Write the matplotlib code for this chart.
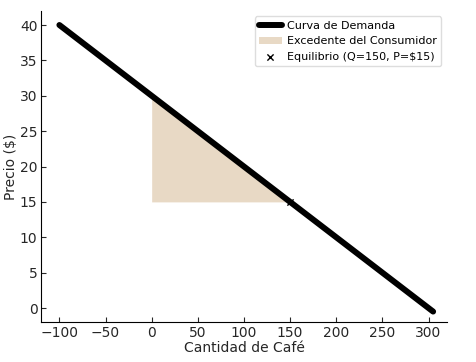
import matplotlib
matplotlib.use("Agg")
import matplotlib.pyplot as plt
import numpy as np

# Data
demand_q = [-100, 305]
demand_p = [40, -0.5]
surplus_q = [0, 150]
surplus_top = [30, 15]
surplus_base = 15
eq_q = [150]
eq_p = [15]

fig = plt.figure(figsize=(4.76, 3.62), dpi=100)
ax = fig.add_axes([0.086, 0.110, 0.853, 0.860])

ax.plot(demand_q, demand_p, color='black', linewidth=4.3, label='Curva de Demanda',
        solid_capstyle='round')
ax.fill_between(surplus_q, surplus_top, surplus_base, color='tan', alpha=0.5,
                linewidth=0, label='Excedente del Consumidor')
ax.scatter(eq_q, eq_p, marker='x', color='black', s=20, linewidths=1,
           label='Equilibrio (Q=150, P=$15)', zorder=3)

ax.set_xlim(-120, 320)
ax.set_ylim(-2, 42)
ax.set_xticks([-100, -50, 0, 50, 100, 150, 200, 250, 300])
ax.set_yticks([0, 5, 10, 15, 20, 25, 30, 35, 40])
ax.tick_params(direction='in', labelsize=10, colors='#262626', pad=2.5)
for s in ['top', 'right']:
    ax.spines[s].set_visible(False)
ax.set_xlabel('Cantidad de Café', fontsize=10, color='#262626', labelpad=1)
ax.set_ylabel('Precio ($)', fontsize=10, color='#262626', labelpad=1)
ax.legend(loc='upper right', fontsize=8, framealpha=1, edgecolor='#dddddd',
          handletextpad=0.5)

fig.savefig('out.png', dpi=100)
